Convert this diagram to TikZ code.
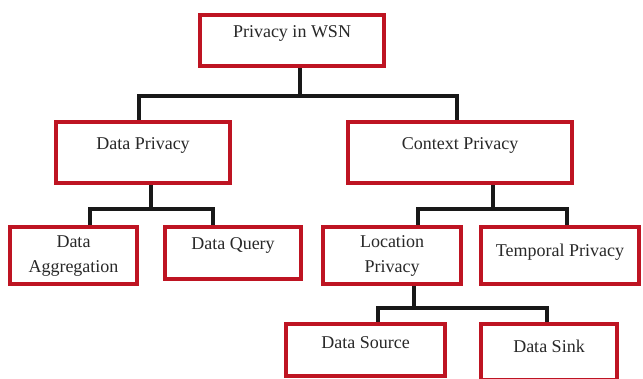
\documentclass[tikz,border=0pt]{standalone}
\usepackage{fontspec}
\setmainfont{Liberation Serif}
\usetikzlibrary{backgrounds}
\definecolor{boxred}{RGB}{190,20,34}
\definecolor{wireblack}{RGB}{24,24,24}
\definecolor{inktext}{RGB}{40,40,40}
\tikzset{
  box/.style={draw=boxred, line width=3.2pt, fill=white, inner sep=0pt},
  lbl/.style={font=\fontsize{18}{25}\selectfont, text=inktext, align=center, inner sep=0pt},
  wire/.style={draw=wireblack, line width=3.2pt},
}
\begin{document}
\begin{tikzpicture}[x=1pt, y=-1pt]
  \useasboundingbox (0,0) rectangle (643,379);

  % boxes
  \node[box, minimum width=184pt, minimum height=51pt] (root) at (292,40.5) {};
  \node[box, minimum width=174pt, minimum height=61pt] (dp) at (143,152.5) {};
  \node[box, minimum width=224pt, minimum height=61pt] (cp) at (460,152.5) {};
  \node[box, minimum width=127pt, minimum height=57pt] (da) at (73.5,255.5) {};
  \node[box, minimum width=136pt, minimum height=52pt] (dq) at (233,253) {};
  \node[box, minimum width=138pt, minimum height=57pt] (lp) at (392,255.5) {};
  \node[box, minimum width=158pt, minimum height=57pt] (tp) at (560,255.5) {};
  \node[box, minimum width=159pt, minimum height=52pt] (ds) at (365.5,350) {};
  \node[box, minimum width=136pt, minimum height=56pt] (dk) at (549,352) {};

  % labels
  \node[lbl] (rootT) at (292,33) {Privacy in WSN};
  \node[lbl] (dpT) at (143,145) {Data Privacy};
  \node[lbl] (cpT) at (460,145) {Context Privacy};
  \node[lbl] (daT) at (73.5,256.5) {Data\\Aggregation};
  \node[lbl] (dqT) at (233,245) {Data Query};
  \node[lbl] (lpT) at (392,255.5) {Location\\Privacy};
  \node[lbl] (tpT) at (560,252) {Temporal Privacy};
  \node[lbl] (dsT) at (365.5,343) {Data Source};
  \node[lbl] (dkT) at (549,346) {Data Sink};

  % junction points of the tree
  \coordinate (j1) at (300,96);
  \coordinate (j1l) at (139,96);
  \coordinate (j1r) at (457,96);
  \coordinate (j2) at (151,209);
  \coordinate (j2l) at (90,209);
  \coordinate (j2r) at (213,209);
  \coordinate (j3) at (493,209);
  \coordinate (j3l) at (418,209);
  \coordinate (j3r) at (567,209);
  \coordinate (j4) at (414,308);
  \coordinate (j4l) at (378,308);
  \coordinate (j4r) at (547,308);

  % connectors
  \begin{scope}[on background layer]
    \draw[wire] (j1 |- root.south) -- (j1);
    \draw[wire] (j1l |- dp.north) -- (j1l) -- (j1r) -- (j1r |- cp.north);
    \draw[wire] (j2 |- dp.south) -- (j2);
    \draw[wire] (j2l |- da.north) -- (j2l) -- (j2r) -- (j2r |- dq.north);
    \draw[wire] (j3 |- cp.south) -- (j3);
    \draw[wire] (j3l |- lp.north) -- (j3l) -- (j3r) -- (j3r |- tp.north);
    \draw[wire] (j4 |- lp.south) -- (j4);
    \draw[wire] (j4l |- ds.north) -- (j4l) -- (j4r) -- (j4r |- dk.north);
  \end{scope}
\end{tikzpicture}
\end{document}
